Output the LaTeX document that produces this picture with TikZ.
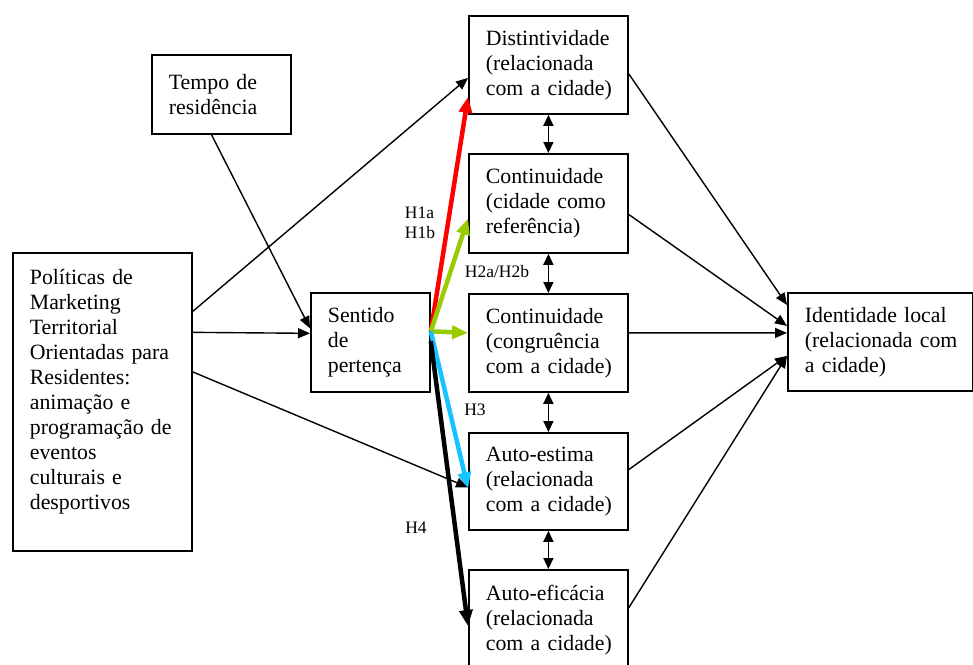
\documentclass[tikz,border=0pt]{standalone}
\usepackage{fontspec}
\setmainfont{Liberation Serif}
\usetikzlibrary{arrows.meta,calc}
\definecolor{hred}{RGB}{255,0,0}
\definecolor{hgreen}{RGB}{153,204,0}
\definecolor{hcyan}{RGB}{20,195,255}
\begin{document}
\begin{tikzpicture}[x=1pt,y=-1pt,
  box/.style={draw,line width=1.8pt,anchor=north west,align=left,
    inner xsep=17pt,inner ysep=0pt,font=\fontsize{21.8pt}{25pt}\selectfont},
  link/.style={line width=1.4pt,-{Triangle[length=12pt,width=10pt]}},
  both/.style={line width=1.4pt,{Triangle[length=11pt,width=10pt]}-{Triangle[length=11pt,width=10pt]}},
  hyp/.style={line width=4.5pt,-{Triangle[length=16pt,width=13pt]}},
  lab/.style={font=\fontsize{17.5pt}{20pt}\selectfont,inner sep=0pt,align=left}]
\useasboundingbox (0,0) rectangle (973,664);
\clip (0,0) rectangle (973,664);

% boxes (lines kept whole with ~)
\node[box,minimum width=179pt,minimum height=298pt,text width=145pt] (pol) at (12,252)
  {Políticas~de\\Marketing\\Territorial\\Orientadas~para\\Residentes:\\animação~e\\programação~de\\eventos\\culturais~e\\desportivos\\\mbox{}};
\node[box,minimum width=139pt,minimum height=79pt,text width=105pt] (tempo) at (151,54)
  {Tempo~de\\residência};
\node[box,minimum width=119pt,minimum height=99pt,text width=85pt] (sent) at (310,292)
  {Sentido\\de\\pertença};
\node[box,minimum width=159pt,minimum height=98pt,text width=125pt] (dist) at (468,15)
  {Distintividade\\(relacionada\\com~a~cidade)};
\node[box,minimum width=159pt,minimum height=99pt,text width=125pt] (cref) at (468,153)
  {Continuidade\\(cidade~como\\referência)};
\node[box,minimum width=159pt,minimum height=98pt,text width=125pt] (ccong) at (468,293)
  {Continuidade\\(congruência\\com~a~cidade)};
\node[box,minimum width=159pt,minimum height=97pt,text width=125pt] (estima) at (468,432)
  {Auto-estima\\(relacionada\\com~a~cidade)};
\node[box,minimum width=159pt,minimum height=100pt,text width=125pt] (efic) at (468,569)
  {Auto-eficácia\\(relacionada\\com~a~cidade)};
\node[box,minimum width=185pt,minimum height=98pt,text width=151pt] (ident) at (787,292)
  {Identidade~local\\(relacionada~com\\a~cidade)};

% thin causal links
\draw[link] ($(pol.north east)!0.198!(pol.south east)$) -- ($(dist.north west)!0.63!(dist.south west)$);
\draw[link] ($(pol.north east)!0.268!(pol.south east)$) -- ($(sent.north west)!0.41!(sent.south west)$);
\draw[link] ($(pol.north east)!0.40!(pol.south east)$) -- ($(estima.north west)!0.56!(estima.south west)$);
\draw[link] ($(tempo.south west)!0.43!(tempo.south east)$) -- ($(sent.north west)!0.36!(sent.south west)$);

% links into local identity
\draw[link] ($(dist.north east)!0.59!(dist.south east)$) -- ($(ident.north west)!0.13!(ident.south west)$);
\draw[link] ($(cref.north east)!0.61!(cref.south east)$) -- ($(ident.north west)!0.34!(ident.south west)$);
\draw[link] ($(ccong.north east)!0.40!(ccong.south east)$) -- ($(ident.north west)!0.41!(ident.south west)$);
\draw[link] ($(estima.north east)!0.38!(estima.south east)$) -- ($(ident.north west)!0.64!(ident.south west)$);
\draw[link] ($(efic.north east)!0.38!(efic.south east)$) -- ($(ident.north west)!0.64!(ident.south west)$);

% correlations between identity dimensions
\draw[both] (dist.south) -- (cref.north);
\draw[both] (cref.south) -- (ccong.north);
\draw[both] (ccong.south) -- (estima.north);
\draw[both] (estima.south) -- (efic.north);

% hypotheses
\coordinate (hub) at ($(sent.north east)!0.39!(sent.south east)$);
\coordinate (hublow) at ($(sent.north east)!0.49!(sent.south east)$);
\draw[hyp,hred] (hub) -- ($(dist.north west)!0.82!(dist.south west)$);
\draw[hyp,hgreen] (hub) -- ($(cref.north west)!0.65!(cref.south west)$);
\draw[hyp,hgreen] (hub) -- ($(ccong.north west)!0.40!(ccong.south west)$);
\draw[hyp,hcyan] (hub) -- ($(estima.north west)!0.57!(estima.south west)$);
\draw[hyp,black] (hublow) -- ($(efic.north west)!0.56!(efic.south west)$);

\node[lab] (h1) at (420,223) {H1a\\H1b};
\node[lab] (h2) at (497,272) {H2a/H2b};
\node[lab] (h3) at (475,410) {H3};
\node[lab] (h4) at (416,528) {H4};
\end{tikzpicture}
\end{document}
